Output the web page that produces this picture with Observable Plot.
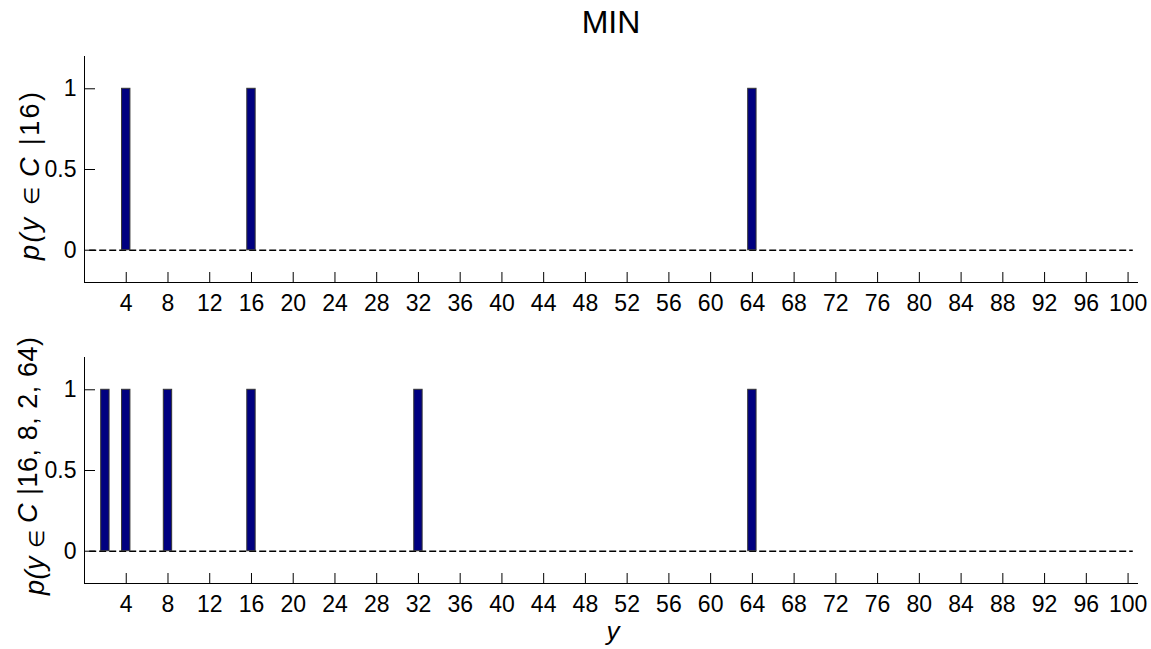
<!DOCTYPE html>
<html><head><meta charset="utf-8">
<script src="https://cdn.jsdelivr.net/npm/d3@7"></script>
<script src="https://cdn.jsdelivr.net/npm/@observablehq/plot@0.6"></script>
<style>
body{margin:0;background:#fff;font-family:"Liberation Sans",Arial,sans-serif;}
#wrap{position:relative;width:1151px;height:649px;overflow:hidden;}
#title{position:absolute;left:84px;width:1054px;top:3px;text-align:center;font-size:32px;line-height:38px;color:#000;}
.panel{position:absolute;left:0;}
</style></head>
<body><div id="wrap"><div id="title">MIN</div></div>
<script>
// data
const topX = [4, 16, 64];
const topP = [1, 1, 1];
const botX = [2, 4, 8, 16, 32, 64];
const botP = [1, 1, 1, 1, 1, 1];
const xTicks = [4, 8, 12, 16, 20, 24, 28, 32, 36, 40, 44, 48, 52, 56, 60, 64, 68, 72, 76, 80, 84, 88, 92, 96, 100];
const yTicks = [0, 0.5, 1];
const xDomain = [0, 101];
const yDomain = [-0.2, 1.2];
const baseRange = [0.5, 100.5];
const barHalf = 0.4;

const FONT = "'Liberation Sans', Arial, sans-serif";
const W = 1151, ML = 84, MR = 13;

function panel(xs, ps, opts) {
  const {top, height, marginTop, marginBottom, ylabel, xlabel} = opts;
  const data = xs.map((x, i) => ({x, p: ps[i]}));
  const innerW = W - ML - MR, innerH = height - marginTop - marginBottom;
  const svg = Plot.plot({
    width: W, height, marginLeft: ML, marginRight: MR, marginTop, marginBottom,
    style: {fontFamily: FONT, fontSize: "23px", color: "#000", background: "transparent", overflow: "visible"},
    x: {domain: xDomain, label: null},
    y: {domain: yDomain, label: null},
    marks: [
      Plot.axisX(xTicks, {tickSize: 0, tickPadding: 12, fontSize: 23, label: null, tickFormat: d => String(d)}),
      Plot.axisY(yTicks, {tickSize: 0, tickPadding: 8, fontSize: 23, label: null, tickFormat: d => String(d)}),
      Plot.ruleX(xTicks, {x: d => d, insetTop: innerH - 10, stroke: "#000", strokeWidth: 1}),
      Plot.ruleY(yTicks, {y: d => d, insetRight: innerW - 11, stroke: "#000", strokeWidth: 1}),
      Plot.ruleY([yDomain[0]], {y: d => d, stroke: "#000", strokeWidth: 1}),
      Plot.ruleX([xDomain[0]], {x: d => d, stroke: "#000", strokeWidth: 1}),
      Plot.ruleY([0], {y: d => d, x1: baseRange[0], x2: baseRange[1], stroke: "#000", strokeWidth: 1.5, strokeDasharray: "7,3"}),
      Plot.rectY(data, {x1: d => d.x - barHalf, x2: d => d.x + barHalf, y1: 0, y2: "p", fill: "#000080", stroke: "#333", strokeWidth: 1})
    ]
  });
  svg.classList.add("panel");
  svg.style.top = top + "px";
  const s = d3.select(svg);
  const L = opts.labelPos;
  const t = s.append("text")
    .attr("transform", `translate(${L.x},${L.cy - top}) rotate(-90)`)
    .attr("text-anchor", "middle")
    .attr("textLength", L.len).attr("lengthAdjust", "spacing")
    .attr("font-family", FONT).attr("font-size", 27).attr("fill", "#000");
  ylabel.forEach(([str, it, dy, fs]) => {
    const ts = t.append("tspan").attr("font-style", it ? "italic" : "normal").text(str);
    if (dy) ts.attr("dy", dy);
    if (fs) ts.attr("font-size", fs);
  });
  if (xlabel) {
    s.append("text").attr("x", ML + innerW / 2 + 2).attr("y", height - 9)
      .attr("text-anchor", "middle").attr("font-family", FONT).attr("font-size", 26)
      .attr("font-style", "italic").attr("fill", "#000").text(xlabel);
  }
  document.getElementById("wrap").appendChild(svg);
}

panel(topX, topP, {top: 0, height: 320, marginTop: 56, marginBottom: 38,
  labelPos: {x: 39, cy: 176, len: 168},
  ylabel: [["p(y ", true], ["\u2208 ", false, 0, 21], ["C ", true], ["|16)", false]]});
panel(botX, botP, {top: 320, height: 329, marginTop: 37, marginBottom: 66,
  labelPos: {x: 44, cy: 466, len: 258},
  ylabel: [["p(y ", true], ["\u2208 ", false, 0, 21], ["C ", true, -7], ["|16, 8, 2, 64)", false]], xlabel: "y"});
</script>
</body></html>
